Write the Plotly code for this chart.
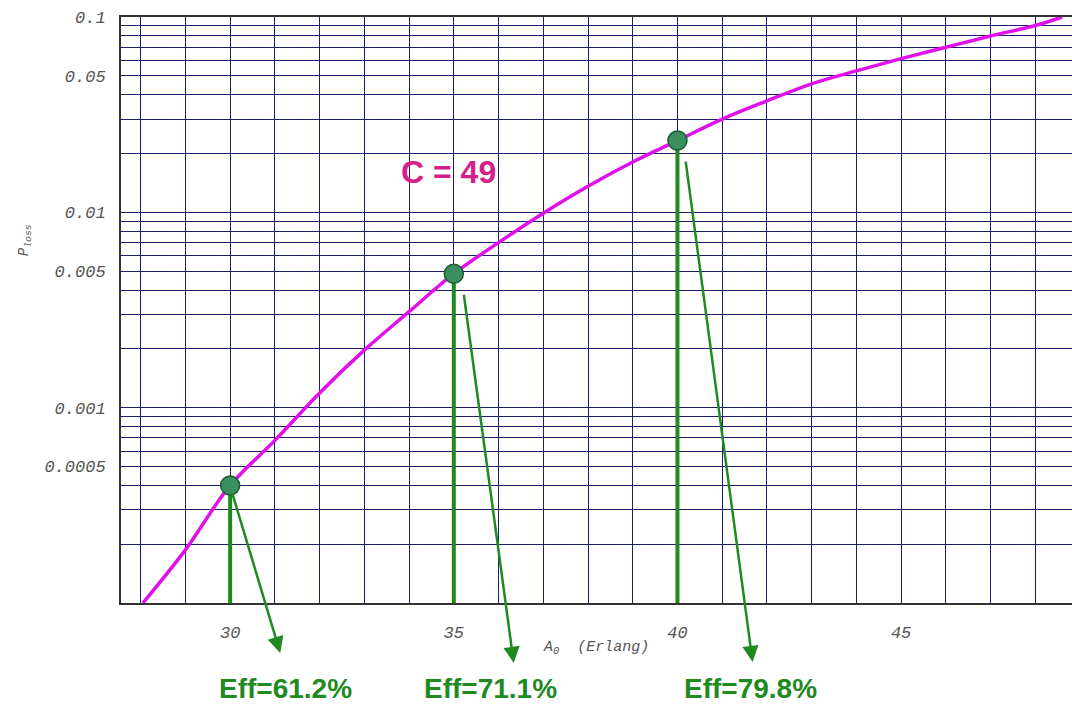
import plotly.graph_objects as go
import math

# Erlang-B loss curve, C = 49 trunks
traffic = [28.05, 29, 30, 31, 32, 33, 34, 35, 36, 37, 38, 39, 40, 41, 42, 43, 44, 45, 46, 47, 48, 48.6]
p_loss = [1.0e-4, 1.87e-4, 4.0e-4, 6.8e-4, 1.19e-3, 1.97e-3, 3.1e-3, 4.85e-3, 7.0e-3, 9.9e-3,
          0.0136, 0.0181, 0.0233, 0.0300, 0.0372, 0.0455, 0.0530, 0.0612, 0.0700, 0.0800, 0.0905, 0.1]

# highlighted operating points and their efficiency labels
pt_traffic = [30, 35, 40]
pt_ploss = [4.0e-4, 4.85e-3, 0.0233]
eff_labels = ["Eff=61.2%", "Eff=71.1%", "Eff=79.8%"]

x_tick_vals = list(range(28, 49))
x_tick_text = [str(v) if v in (30, 35, 40, 45) else " " for v in x_tick_vals]
y_labels = {0.0005: "0.0005", 0.001: "0.001", 0.005: "0.005", 0.01: "0.01", 0.05: "0.05", 0.1: "0.1"}

y_tick_vals = []
y_tick_text = []
for dec in (1e-4, 1e-3, 1e-2):
    for m in range(1, 10):
        v = round(m * dec, 6)
        y_tick_vals.append(v)
        y_tick_text.append(y_labels.get(v, " "))
y_tick_vals.append(0.1)
y_tick_text.append("0.1")

GREEN = "#1f8a1f"
MONO = "Liberation Mono"

fig = go.Figure()

fig.add_trace(go.Scatter(x=traffic, y=p_loss, mode="lines", line=dict(color="#e010e8", width=3.5, shape="spline"),
                         showlegend=False, hoverinfo="skip"))

for xv, yv in zip(pt_traffic, pt_ploss):
    fig.add_trace(go.Scatter(x=[xv, xv], y=[yv, 1e-4], mode="lines", line=dict(color=GREEN, width=4),
                             showlegend=False, hoverinfo="skip"))

fig.add_trace(go.Scatter(x=pt_traffic, y=pt_ploss, mode="markers",
                         marker=dict(size=19, color="#3b8f5e", line=dict(color="#1d5a36", width=1.5)),
                         showlegend=False, cliponaxis=False))

# diagonal arrows from each point toward the efficiency label (offsets in axis units)
arrow_offsets = [(0.04, -0.034, 1.12, -0.858), (0.22, -0.1, 1.34, -1.993), (0.18, -0.1, 1.68, -2.67)]
for (xv, yv), (dx0, dy0, dx1, dy1) in zip(zip(pt_traffic, pt_ploss), arrow_offsets):
    ly = math.log10(yv)
    fig.add_annotation(x=xv + dx1, y=ly + dy1, ax=xv + dx0, ay=ly + dy0, xref="x", yref="y",
                       axref="x", ayref="y", text="", showarrow=True, arrowhead=2, arrowsize=1.3,
                       arrowwidth=2.5, arrowcolor=GREEN)

label_x = [31.23, 35.83, 41.63]
for lx, txt in zip(label_x, eff_labels):
    fig.add_annotation(x=lx, y=-0.146, xref="x", yref="paper", text=txt, showarrow=False,
                       xanchor="center", yanchor="middle",
                       font=dict(family="Arial", size=28, color=GREEN, weight="bold"))

fig.add_annotation(x=34.88, y=-1.795, xref="x", yref="y", text="C = 49", showarrow=False,
                   xanchor="center", yanchor="middle",
                   font=dict(family="Arial", size=32, color="#d4208c", weight="bold"))

fig.add_annotation(x=0.4995, y=-0.0768, xref="paper", yref="paper", text="A<sub>0</sub>  (Erlang)",
                   showarrow=False, xanchor="center", yanchor="middle",
                   font=dict(family=MONO, size=15, color="#555555", style="italic"))
fig.add_annotation(x=-0.101, y=0.619, xref="paper", yref="paper", text="P<sub>loss</sub>", textangle=-90,
                   showarrow=False, xanchor="center", yanchor="middle",
                   font=dict(family=MONO, size=14, color="#555555", style="italic"))

fig.update_layout(
    width=1072, height=704,
    margin=dict(l=121, r=0, t=17, b=101),
    plot_bgcolor="white", paper_bgcolor="white",
    xaxis=dict(range=[27.56, 48.82], tickmode="array", tickvals=x_tick_vals, ticktext=x_tick_text,
               showgrid=True, gridcolor="#1c1c70", gridwidth=1.4, zeroline=False, automargin=False,
               showline=True, linecolor="#333333", linewidth=2, mirror=True, ticks="",
               tickfont=dict(family=MONO, size=17, color="#555555", style="italic"),
               ticklabelstandoff=13),
    yaxis=dict(type="log", range=[-4, -1], tickmode="array", tickvals=y_tick_vals, ticktext=y_tick_text,
               showgrid=True, gridcolor="#1c1c70", gridwidth=1.4, zeroline=False, automargin=False,
               showline=True, linecolor="#333333", linewidth=2, ticks="",
               tickfont=dict(family=MONO, size=17, color="#555555", style="italic"),
               ticklabelstandoff=10),
)

fig.write_html("out.html", config={"displayModeBar": False},
               post_script="document.body.style.margin='0';document.body.style.overflow='hidden';")
